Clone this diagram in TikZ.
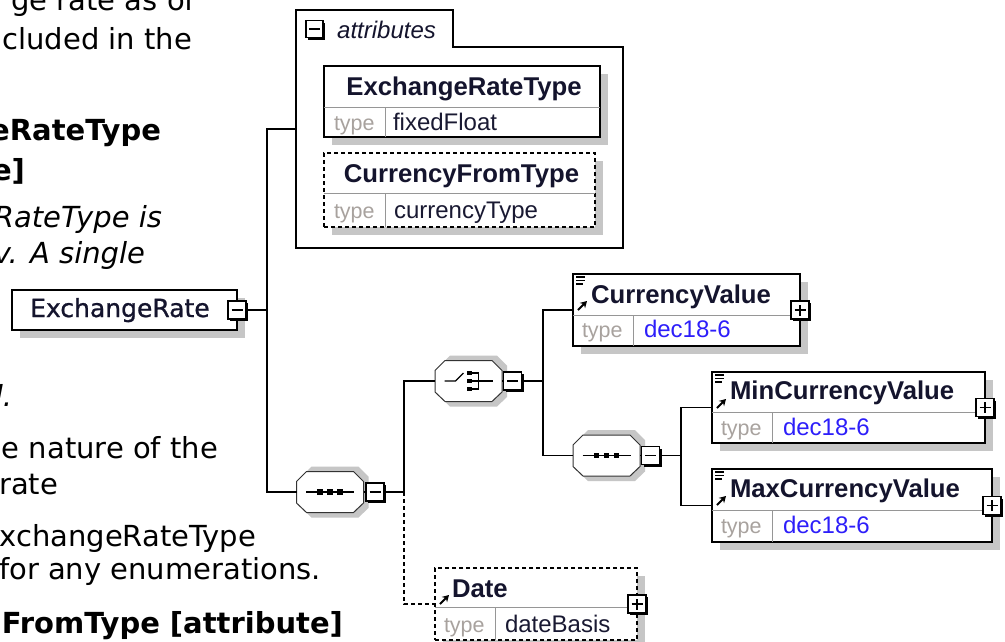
\documentclass[tikz,border=0pt]{standalone}
\usepackage{fontspec}
\usetikzlibrary{shadows,arrows.meta}
\newfontfamily\docfont{DejaVu Sans}
\newfontfamily\erfont[FakeBold=0.9]{DejaVu Sans}
\newfontfamily\xfont{Liberation Sans}
\definecolor{shadowgray}{RGB}{198,198,198}
\definecolor{typegray}{RGB}{168,162,158}
\definecolor{divgray}{RGB}{150,150,150}
\definecolor{valblue}{RGB}{45,30,250}
\definecolor{namecol}{RGB}{20,20,45}
\definecolor{valcol}{RGB}{25,25,50}
\newcommand\xsdminus[1]{\draw[line width=1.3pt] ([xshift=-5.5pt]#1.center) -- ([xshift=5.5pt]#1.center);}
\newcommand\xsdplus[1]{\xsdminus{#1}\draw[line width=1.3pt] ([yshift=-5.5pt]#1.center) -- ([yshift=5.5pt]#1.center);}
\newcommand\docmark[2]{\begin{scope}[shift={(#1,#2)}]\draw[line width=1.2pt] (3,3)--(12,3) (3,6.5)--(12,6.5) (3,10)--(10,10);\end{scope}}
\newcommand\refmark[2]{\begin{scope}[shift={(#1,#2)}]\draw[line width=2pt,-{Stealth[length=6.5pt,width=7.5pt]}] (5,36)--(14,27);\end{scope}}
\newcommand\octagon[3]{%
  \node[inner sep=0pt, outer sep=0pt, minimum width=67pt, minimum height=41pt] (#1) at (#2,#3) {};
  \begin{scope}[shift={(#1.center)}]
    \fill[shadowgray] (-28.5,-15.5) -- (-18.5,-25.5) -- (28.5,-25.5) -- (38.5,-15.5) -- (38.5,16) -- (28.5,25.5) -- (-18.5,25.5) -- (-28.5,16) -- cycle;
    \draw[draw=black!80, line width=1pt, fill=white] (-33.5,-10.5) -- (-23.5,-20.5) -- (23.5,-20.5) -- (33.5,-10.5) -- (33.5,11) -- (23.5,20.5) -- (-23.5,20.5) -- (-33.5,11) -- cycle;
  \end{scope}}
\newcommand\seqsym[1]{\draw[line width=1.2pt] ([xshift=-24pt]#1.center) -- ([xshift=24pt]#1.center);
  \foreach \dx in {-10,0,10}{\fill ([xshift=\dx pt]#1.center) +(-2.8pt,-2.8pt) rectangle +(2.8pt,2.8pt);}}
\newcommand\chsym[1]{\begin{scope}[shift={(#1.center)}]
  \draw[line width=1.2pt] (-24,0) -- (-13,0) -- (-5,-8);
  \foreach \dy in {-8,0,8}{\fill (-1.5,\dy-2.3) rectangle (3.5,\dy+2.3);}
  \draw[line width=1.2pt] (3.5,-8) -- (10,-8) -- (10,8) -- (3.5,8) (3.5,0) -- (24,0);
  \end{scope}}
\begin{document}
\begin{tikzpicture}[x=1pt,y=-1pt,
  doctext/.style={anchor=base east, inner sep=0pt, outer sep=0pt, font=\docfont\fontsize{29}{34}\selectfont},
  docbold/.style={doctext, font=\docfont\bfseries\fontsize{29}{34}\selectfont},
  docit/.style={doctext, font=\docfont\itshape\fontsize{29}{34}\selectfont},
  conn/.style={line width=1.5pt},
  dconn/.style={line width=1.5pt, dash pattern=on 4pt off 3pt},
  elem/.style={draw, line width=1.4pt, fill=white, inner sep=0pt, outer sep=0pt,
    drop shadow={shadow xshift=8pt, shadow yshift=-8pt, fill=shadowgray, opacity=1}},
  optelem/.style={elem, dash pattern=on 4pt off 3pt},
  pmbox/.style={draw, line width=1.2pt, fill=white, minimum size=18pt, inner sep=0pt, outer sep=0pt,
    drop shadow={shadow xshift=2.2pt, shadow yshift=-2.2pt, fill=black, opacity=1}},
  namet/.style={anchor=base west, inner sep=0pt, outer sep=0pt, font=\xfont\bfseries\fontsize{25.7}{30}\selectfont, text=namecol},
  typet/.style={anchor=base west, inner sep=0pt, outer sep=0pt, font=\xfont\fontsize{21.5}{25}\selectfont, text=typegray},
  valt/.style={anchor=base west, inner sep=0pt, outer sep=0pt, font=\xfont\fontsize{24}{28}\selectfont, text=valcol},
  divline/.style={draw=divgray, line width=1pt}
]
\clip (0,0) rectangle (1005,641);
\fill[white] (0,0) rectangle (1005,641);

% background document text
\node[doctext] (t1) at (195,10) {ge rate as of};
\node[doctext] (t2) at (192,49) {cluded in the};
\node[docbold] (t3) at (161,140) {eRateType};
\node[docbold] (t4) at (25,180) {e]};
\node[docit] (t5) at (162,227) {RateType is};
\node[docit] (t6) at (145,263) {v. A single};
\node[docit] (t7) at (12,406) {d.};
\node[doctext] (t8) at (218,458) {e nature of the};
\node[doctext] (t9) at (58,494) {rate};
\node[doctext] (t10) at (256,546) {xchangeRateType};
\node[doctext] (t11) at (321,579) {for any enumerations.};
\node[docbold] (t12) at (343,633) {FromType [attribute]};

% ExchangeRate
\node[elem, minimum width=225pt, minimum height=40pt] (er) at (124.5,310) {};
\node[anchor=base west, inner sep=0pt, font=\erfont\fontsize{25}{30}\selectfont, text=namecol] (ern) at (30,317) {ExchangeRate};

% attributes group
\node[inner sep=0pt, outer sep=0pt, minimum width=327pt, minimum height=238pt] (attr) at (459.5,129) {};
\draw[line width=1.4pt] (attr.south west) -- (attr.north west) -- (453,10) -- (453,47) -- (623,47) -- (attr.south east) -- cycle;
\node[pmbox, minimum size=17pt] (attrm) at (314.5,29) {};
\xsdminus{attrm}
\node[anchor=base west, inner sep=0pt, font=\xfont\itshape\fontsize{24}{28}\selectfont, text=namecol] (attrl) at (337,38) {attributes};

\node[elem, minimum width=276pt, minimum height=71pt] (ert) at (462,101.5) {};
\draw[divline] (324,107) -- (600,107) (385,107) -- (385,137);
\node[namet, anchor=base] (ertn) at (464,95) {ExchangeRateType};
\node[typet] (ertt) at (334,130) {type};
\node[valt] (ertv) at (393,130) {fixedFloat};

\node[optelem, minimum width=271pt, minimum height=74pt] (cft) at (459.5,190) {};
\draw[divline] (324,193) -- (595,193) (385,193) -- (385,227);
\node[namet, anchor=base] (cftn) at (461.5,182) {CurrencyFromType};
\node[typet] (cftt) at (334,218) {type};
\node[valt] (cftv) at (394,218) {currencyType};

% compositors
\octagon{seq1}{330}{492}
\seqsym{seq1}
\octagon{ch}{468.5}{381}
\chsym{ch}
\octagon{seq2}{606.5}{455.5}
\seqsym{seq2}

% CurrencyValue
\node[elem, minimum width=227pt, minimum height=72pt] (cv) at (686.5,310) {};
\draw[divline] (573,315) -- (800,315) (633,315) -- (633,346);
\docmark{573}{274}\refmark{573}{274}
\node[namet] (cvn) at (591,303) {CurrencyValue};
\node[typet] (cvt) at (582,337) {type};
\node[valt, text=valblue] (cvv) at (644,337) {dec18-6};

% MinCurrencyValue
\node[elem, minimum width=273pt, minimum height=71pt] (minv) at (848.5,407.5) {};
\draw[divline] (712,412) -- (985,412) (772,412) -- (772,443);
\docmark{712}{372}\refmark{712}{372}
\node[namet] (minn) at (730,399) {MinCurrencyValue};
\node[typet] (mint) at (721,435) {type};
\node[valt, text=valblue] (minvv) at (783,435) {dec18-6};

% MaxCurrencyValue
\node[elem, minimum width=280pt, minimum height=73pt] (maxv) at (852,505.5) {};
\draw[divline] (712,510) -- (992,510) (772,510) -- (772,542);
\docmark{712}{469}\refmark{712}{469}
\node[namet] (maxn) at (730,497) {MaxCurrencyValue};
\node[typet] (maxt) at (721,533) {type};
\node[valt, text=valblue] (maxvv) at (783,533) {dec18-6};

% Date
\node[optelem, minimum width=202pt, minimum height=72pt] (date) at (536,604) {};
\draw[divline] (435,607) -- (637,607) (495,607) -- (495,640);
\refmark{435}{568}
\node[namet] (daten) at (452,597) {Date};
\node[typet] (datet) at (444,632) {type};
\node[valt] (datev) at (505,632) {dateBasis};

% connectors
\coordinate (ja) at (267,310);
\coordinate (jb) at (404,492);
\coordinate (jc) at (543,381);
\coordinate (jd) at (681,455.5);
\draw[conn] (er.east) -- (ja);
\draw[conn] (attr.west) -| (ja);
\draw[conn] (ja) |- (seq1.west);
\draw[conn] (seq1.east) -- (jb);
\draw[conn] (jb) |- (ch.west);
\draw[dconn] (jb) |- (date.west);
\draw[conn] (ch.east) -- (jc);
\draw[conn] (jc) |- (cv.west);
\draw[conn] (jc) |- (seq2.west);
\draw[conn] (seq2.east) -- (jd);
\draw[conn] (jd) |- (minv.west);
\draw[conn] (jd) |- (maxv.west);

% expand/collapse boxes
\node[pmbox] (erm) at (er.east) {};
\xsdminus{erm}
\node[pmbox] (seq1m) at (375,492) {};
\xsdminus{seq1m}
\node[pmbox] (chm) at (512.5,381) {};
\xsdminus{chm}
\node[pmbox] (seq2m) at (650.5,455.5) {};
\xsdminus{seq2m}
\node[pmbox] (cvp) at (cv.east) {};
\xsdplus{cvp}
\node[pmbox] (minp) at (minv.east) {};
\xsdplus{minp}
\node[pmbox] (maxp) at (maxv.east) {};
\xsdplus{maxp}
\node[pmbox] (datep) at (date.east) {};
\xsdplus{datep}
\end{tikzpicture}
\end{document}
